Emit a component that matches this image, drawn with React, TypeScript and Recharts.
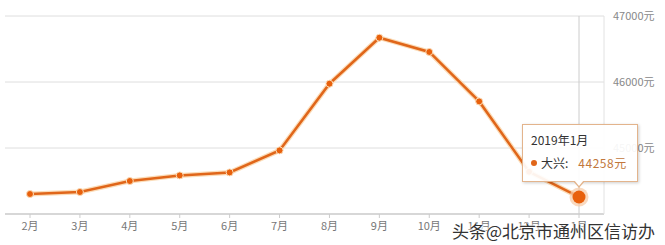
import { LineChart, Line, XAxis, YAxis, CartesianGrid, Tooltip } from "recharts";

const months = ["2月", "3月", "4月", "5月", "6月", "7月", "8月", "9月", "10月", "11月", "12月", "1月"];
const periods = [
  "2018年2月", "2018年3月", "2018年4月", "2018年5月", "2018年6月", "2018年7月",
  "2018年8月", "2018年9月", "2018年10月", "2018年11月", "2018年12月", "2019年1月",
];
const prices = [44303, 44333, 44500, 44585, 44630, 44964, 45974, 46671, 46455, 45706, 44640, 44258];
const yTicks = [44000, 45000, 46000, 47000];
const seriesName = "大兴";

const data = months.map((m, i) => ({ month: m, period: periods[i], price: prices[i] }));

const ORANGE = "#e0661a";
const FONT = "'Noto Sans CJK SC', 'Noto Sans', sans-serif";

function PriceTooltip({ payload }: any) {
  if (!payload?.length) return null;
  const p = payload[0].payload;
  return (
    <div style={{ position: "relative", width: 116, height: 58, fontFamily: FONT }}>
      <div
        style={{
          boxSizing: "border-box",
          width: 116,
          height: 58,
          background: "rgba(255,255,255,0.92)",
          border: "1px solid #e3b48c",
          boxShadow: "1px 1px 3px rgba(0,0,0,0.2)",
          padding: "5px 6px 5px 8px",
          fontSize: 12,
          color: "#333",
          lineHeight: "20px",
          whiteSpace: "nowrap",
        }}
      >
        <div>{p.period}</div>
        <div style={{ display: "flex", alignItems: "center", marginTop: 3, whiteSpace: "nowrap" }}>
          <span style={{ flex: "none", width: 6, height: 6, borderRadius: 3, background: ORANGE, display: "inline-block", marginRight: 4 }} />
          <span style={{ flex: "none" }}>{seriesName}:</span>
          <span style={{ flex: "none", marginLeft: 10, color: "#c2773c", letterSpacing: 0.5 }}>{p.price}元</span>
        </div>
      </div>
      <div
        style={{
          position: "absolute",
          left: 51,
          top: 57,
          width: 0,
          height: 0,
          borderLeft: "6px solid transparent",
          borderRight: "6px solid transparent",
          borderTop: "7px solid #e3b48c",
        }}
      />
      <div
        style={{
          position: "absolute",
          left: 52,
          top: 56,
          width: 0,
          height: 0,
          borderLeft: "5px solid transparent",
          borderRight: "5px solid transparent",
          borderTop: "6px solid #fff",
        }}
      />
    </div>
  );
}

function ActiveDot(props: any) {
  const { cx, cy } = props;
  return (
    <g>
      <circle cx={cx} cy={cy} r={9.5} fill="#f6c9a4" opacity={0.7} />
      <circle cx={cx} cy={cy} r={6.5} fill="#e8600c" />
    </g>
  );
}

export default function App() {
  return (
    <div style={{ position: "absolute", left: 0, top: 0, width: 665, height: 245, background: "#fff" }}>
      <LineChart width={665} height={245} data={data} margin={{ top: 16, right: 0, left: 5, bottom: 0 }}>
        <CartesianGrid vertical={false} stroke="#dedede" />
        <XAxis
          dataKey="month"
          height={31}
          padding={{ left: 25, right: 25 }}
          tick={{ fontSize: 11, fill: "#777", fontFamily: FONT }}
          tickLine={{ stroke: "#ccc" }}
          tickSize={4}
          tickMargin={4}
          axisLine={{ stroke: "#cfcfcf", strokeWidth: 1.5 }}
          interval={0}
        />
        <YAxis
          orientation="right"
          width={61}
          domain={[44000, 47000]}
          ticks={yTicks}
          tickFormatter={(v: number) => (v === 44000 ? "" : `${v}元`)}
          tick={{ fontSize: 11, fill: "#888", fontFamily: FONT, textAnchor: "start" }}
          tickSize={0}
          tickMargin={9}
          axisLine={{ stroke: "#e2e2e2" }}
        />
        <Tooltip
          active={true}
          defaultIndex={11}
          position={{ x: 522, y: 124 }}
          content={<PriceTooltip />}
          cursor={{ stroke: "#cccccc", strokeWidth: 1 }}
          isAnimationActive={false}
          wrapperStyle={{ pointerEvents: "none", outline: "none" }}
        />
        <Line
          type="linear"
          dataKey="price"
          stroke="#fbdcb8"
          strokeWidth={5}
          dot={false}
          activeDot={false}
          isAnimationActive={false}
          legendType="none"
        />
        <Line
          type="linear"
          dataKey="price"
          name={seriesName}
          stroke={ORANGE}
          strokeWidth={2.5}
          dot={{ r: 3.5, fill: "#e8600c", stroke: "#fbdcb8", strokeWidth: 1 }}
          activeDot={<ActiveDot />}
          isAnimationActive={false}
        />
      </LineChart>
      <div
        style={{
          position: "absolute",
          left: 452,
          top: 218,
          fontFamily: FONT,
          fontSize: 17,
          color: "#333",
          whiteSpace: "nowrap",
          textShadow: "0 0 2px #fff, 0 0 2px #fff, 0 0 3px #fff, 1px 1px 1px #fff",
        }}
      >
        头条@北京市通州区信访办
      </div>
    </div>
  );
}
